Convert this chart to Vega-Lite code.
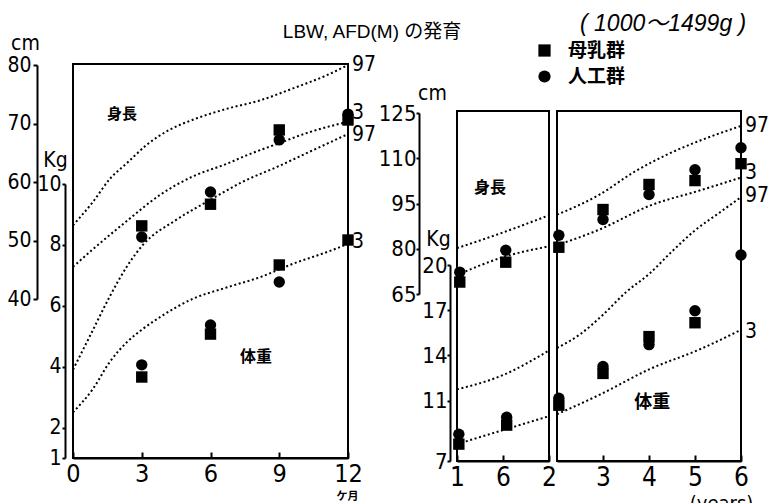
{
  "$schema": "https://vega.github.io/schema/vega-lite/v6.json",
  "background": "white",
  "padding": {"left": 5, "top": 12, "right": 0, "bottom": 0},
  "config": {
    "view": {"stroke": "black", "strokeWidth": 2},
    "axis": {"grid": false, "domainColor": "black", "domainWidth": 2, "tickColor": "black", "tickWidth": 2, "labelColor": "black", "labelFont": "Liberation Sans Narrow, DejaVu Sans Condensed, Liberation Sans, sans-serif", "titleColor": "black", "titleFontWeight": "normal", "titleFont": "Liberation Sans Narrow, DejaVu Sans Condensed, Liberation Sans, sans-serif", "labelFlush": false, "labelOverlap": false, "labelBound": false},
    "text": {"color": "black"}
  },
  "datasets": {
    "Lh": [
      {"type": "curve", "p": "97", "t": 0, "v": 52.6}, {"type": "curve", "p": "97", "t": 0.87, "v": 56.6}, {"type": "curve", "p": "97", "t": 1.6, "v": 60.5}, {"type": "curve", "p": "97", "t": 2.4, "v": 63.4}, {"type": "curve", "p": "97", "t": 3.2, "v": 66.3}, {"type": "curve", "p": "97", "t": 4.2, "v": 68.9}, {"type": "curve", "p": "97", "t": 5.2, "v": 70.6}, {"type": "curve", "p": "97", "t": 6.7, "v": 72.5}, {"type": "curve", "p": "97", "t": 8.2, "v": 74.0}, {"type": "curve", "p": "97", "t": 9.6, "v": 76.0}, {"type": "curve", "p": "97", "t": 11.1, "v": 78.3}, {"type": "curve", "p": "97", "t": 12, "v": 80.0},
      {"type": "curve", "p": "3", "t": 0, "v": 45.5}, {"type": "curve", "p": "3", "t": 0.87, "v": 48.5}, {"type": "curve", "p": "3", "t": 2.4, "v": 53.5}, {"type": "curve", "p": "3", "t": 3.8, "v": 57.8}, {"type": "curve", "p": "3", "t": 5.2, "v": 60.9}, {"type": "curve", "p": "3", "t": 6.7, "v": 63.1}, {"type": "curve", "p": "3", "t": 7.6, "v": 64.6}, {"type": "curve", "p": "3", "t": 8.9, "v": 66.5}, {"type": "curve", "p": "3", "t": 10.3, "v": 68.5}, {"type": "curve", "p": "3", "t": 12, "v": 70.3},
      {"type": "pt", "g": "母乳群", "t": 3, "v": 52.5}, {"type": "pt", "g": "人工群", "t": 3, "v": 50.6}, {"type": "pt", "g": "人工群", "t": 6, "v": 58.3}, {"type": "pt", "g": "母乳群", "t": 6, "v": 56.2}, {"type": "pt", "g": "母乳群", "t": 9, "v": 68.9}, {"type": "pt", "g": "人工群", "t": 9, "v": 67.2}, {"type": "pt", "g": "人工群", "t": 12, "v": 71.6}, {"type": "pt", "g": "母乳群", "t": 12, "v": 70.6},
      {"type": "lab", "t": 12, "v": 80.0, "text": "97"}, {"type": "lab", "t": 12, "v": 71.8, "text": "3"},
      {"type": "note", "t": 2.14, "v": 71.6, "text": "身長"}
    ],
    "Lw": [
      {"type": "curve", "p": "97", "t": 0, "v": 3.9}, {"type": "curve", "p": "97", "t": 0.8, "v": 5.1}, {"type": "curve", "p": "97", "t": 1.6, "v": 6.3}, {"type": "curve", "p": "97", "t": 2.36, "v": 7.3}, {"type": "curve", "p": "97", "t": 3.05, "v": 8.0}, {"type": "curve", "p": "97", "t": 4.5, "v": 8.82}, {"type": "curve", "p": "97", "t": 6.06, "v": 9.51}, {"type": "curve", "p": "97", "t": 7.4, "v": 10.07}, {"type": "curve", "p": "97", "t": 8.9, "v": 10.56}, {"type": "curve", "p": "97", "t": 10.3, "v": 11.05}, {"type": "curve", "p": "97", "t": 12, "v": 11.64},
      {"type": "curve", "p": "3", "t": 0, "v": 2.5}, {"type": "curve", "p": "3", "t": 0.87, "v": 3.27}, {"type": "curve", "p": "3", "t": 1.6, "v": 4.15}, {"type": "curve", "p": "3", "t": 2.36, "v": 4.81}, {"type": "curve", "p": "3", "t": 3.05, "v": 5.24}, {"type": "curve", "p": "3", "t": 3.8, "v": 5.63}, {"type": "curve", "p": "3", "t": 5.2, "v": 6.22}, {"type": "curve", "p": "3", "t": 6.7, "v": 6.6}, {"type": "curve", "p": "3", "t": 8.2, "v": 6.95}, {"type": "curve", "p": "3", "t": 9.6, "v": 7.38}, {"type": "curve", "p": "3", "t": 11.1, "v": 7.77}, {"type": "curve", "p": "3", "t": 12, "v": 8.03},
      {"type": "pt", "g": "人工群", "t": 3, "v": 4.06}, {"type": "pt", "g": "母乳群", "t": 3, "v": 3.66}, {"type": "pt", "g": "人工群", "t": 6, "v": 5.37}, {"type": "pt", "g": "母乳群", "t": 6, "v": 5.07}, {"type": "pt", "g": "母乳群", "t": 9, "v": 7.34}, {"type": "pt", "g": "人工群", "t": 9, "v": 6.78}, {"type": "pt", "g": "母乳群", "t": 12, "v": 8.16},
      {"type": "lab", "t": 12, "v": 11.6, "text": "97"}, {"type": "lab", "t": 12, "v": 8.1, "text": "3"},
      {"type": "note", "t": 7.98, "v": 4.32, "text": "体重"}
    ],
    "Ah": [
      {"type": "curve", "p": "97", "t": 1.0, "v": 80.2}, {"type": "curve", "p": "97", "t": 1.5, "v": 85.4}, {"type": "curve", "p": "97", "t": 2.0, "v": 91.1},
      {"type": "curve", "p": "3", "t": 1.0, "v": 71.3}, {"type": "curve", "p": "3", "t": 1.5, "v": 77.2}, {"type": "curve", "p": "3", "t": 2.0, "v": 80.8},
      {"type": "pt", "g": "人工群", "t": 1.03, "v": 72.25}, {"type": "pt", "g": "母乳群", "t": 1.03, "v": 68.96}, {"type": "pt", "g": "人工群", "t": 1.53, "v": 79.5}, {"type": "pt", "g": "母乳群", "t": 1.53, "v": 75.55},
      {"type": "note", "t": 1.36, "v": 100.3, "text": "身長"}
    ],
    "Aw": [
      {"type": "curve", "p": "97", "t": 1.0, "v": 11.75}, {"type": "curve", "p": "97", "t": 1.5, "v": 12.7}, {"type": "curve", "p": "97", "t": 2.0, "v": 14.33},
      {"type": "curve", "p": "3", "t": 1.0, "v": 8.12}, {"type": "curve", "p": "3", "t": 1.5, "v": 9.05}, {"type": "curve", "p": "3", "t": 2.0, "v": 9.97},
      {"type": "pt", "g": "人工群", "t": 1.02, "v": 8.78}, {"type": "pt", "g": "母乳群", "t": 1.02, "v": 8.12}, {"type": "pt", "g": "人工群", "t": 1.54, "v": 9.9}, {"type": "pt", "g": "母乳群", "t": 1.54, "v": 9.38}
    ],
    "Bh": [
      {"type": "curve", "p": "97", "t": 2.0, "v": 91.3}, {"type": "curve", "p": "97", "t": 2.93, "v": 98.0}, {"type": "curve", "p": "97", "t": 3.65, "v": 105.2}, {"type": "curve", "p": "97", "t": 4.39, "v": 111.2}, {"type": "curve", "p": "97", "t": 5.1, "v": 115.8}, {"type": "curve", "p": "97", "t": 6.0, "v": 120.7},
      {"type": "curve", "p": "3", "t": 2.0, "v": 81.2}, {"type": "curve", "p": "3", "t": 2.93, "v": 86.4}, {"type": "curve", "p": "3", "t": 4.02, "v": 94.3}, {"type": "curve", "p": "3", "t": 5.1, "v": 99.3}, {"type": "curve", "p": "3", "t": 6.0, "v": 103.6},
      {"type": "pt", "g": "人工群", "t": 2.04, "v": 84.45}, {"type": "pt", "g": "母乳群", "t": 2.04, "v": 80.5}, {"type": "pt", "g": "母乳群", "t": 3, "v": 93.0}, {"type": "pt", "g": "人工群", "t": 3, "v": 89.7}, {"type": "pt", "g": "母乳群", "t": 4, "v": 101.3}, {"type": "pt", "g": "人工群", "t": 4, "v": 98.0}, {"type": "pt", "g": "人工群", "t": 5, "v": 106.2}, {"type": "pt", "g": "母乳群", "t": 5, "v": 102.6}, {"type": "pt", "g": "人工群", "t": 6, "v": 113.5}, {"type": "pt", "g": "母乳群", "t": 6, "v": 108.2},
      {"type": "lab", "t": 6, "v": 120.7, "text": "97"}, {"type": "lab", "t": 6, "v": 105.2, "text": "3"},
      {"type": "title", "t": -3.96, "v": 151.85, "text": "LBW, AFD(M) の発育"},
      {"type": "sub", "t": 2.5, "v": 154.5, "text": "( 1000～1499g )"}
    ],
    "Bw": [
      {"type": "curve", "p": "97", "t": 2.0, "v": 14.5}, {"type": "curve", "p": "97", "t": 2.5, "v": 15.4}, {"type": "curve", "p": "97", "t": 3.0, "v": 16.7}, {"type": "curve", "p": "97", "t": 3.5, "v": 18.2}, {"type": "curve", "p": "97", "t": 4.0, "v": 19.4}, {"type": "curve", "p": "97", "t": 4.5, "v": 20.9}, {"type": "curve", "p": "97", "t": 5.0, "v": 22.3}, {"type": "curve", "p": "97", "t": 5.5, "v": 23.4}, {"type": "curve", "p": "97", "t": 6.0, "v": 24.5},
      {"type": "curve", "p": "3", "t": 2.0, "v": 10.1}, {"type": "curve", "p": "3", "t": 2.93, "v": 11.4}, {"type": "curve", "p": "3", "t": 4.02, "v": 13.1}, {"type": "curve", "p": "3", "t": 5.1, "v": 14.4}, {"type": "curve", "p": "3", "t": 6.0, "v": 15.7},
      {"type": "pt", "g": "人工群", "t": 2.04, "v": 11.16}, {"type": "pt", "g": "母乳群", "t": 2.04, "v": 10.7}, {"type": "pt", "g": "人工群", "t": 3, "v": 13.27}, {"type": "pt", "g": "母乳群", "t": 3, "v": 12.81}, {"type": "pt", "g": "母乳群", "t": 4, "v": 15.25}, {"type": "pt", "g": "人工群", "t": 4, "v": 14.72}, {"type": "pt", "g": "人工群", "t": 5, "v": 16.97}, {"type": "pt", "g": "母乳群", "t": 5, "v": 16.17}, {"type": "pt", "g": "人工群", "t": 6, "v": 20.66},
      {"type": "lab", "t": 6, "v": 24.6, "text": "97"}, {"type": "lab", "t": 6, "v": 15.56, "text": "3"},
      {"type": "note", "t": 4.07, "v": 10.85, "text": "体重"}
    ]
  },
  "resolve": {"scale": {"shape": "shared"}, "legend": {"shape": "shared"}},
  "bounds": "flush",
  "spacing": 109,
  "hconcat": [
    {
      "width": 275,
      "height": 394,
      "resolve": {"scale": {"y": "independent"}},
      "layer": [
        {
          "data": {"name": "Lh"},
          "encoding": {
            "x": {"field": "t", "type": "quantitative", "scale": {"domain": [0, 12], "nice": false, "zero": false}, "axis": {"values": [0, 3, 6, 9, 12], "labelFontSize": 25, "tickSize": -6, "labelPadding": 9, "title": "ケ月", "titleX": 274, "titleY": 38, "titleFont": "Noto Sans CJK JP", "titleFontSize": 11, "titleFontWeight": "bold", "titleAlign": "center", "titleBaseline": "middle"}},
            "y": {"field": "v", "type": "quantitative", "scale": {"domain": [40, 80], "range": [235, 1], "nice": false, "zero": false}, "axis": {"orient": "left", "offset": 36, "values": [40, 50, 60, 70, 80], "labelFontSize": 21, "tickSize": 4, "labelPadding": 2, "title": "cm", "titleAngle": 0, "titleX": -12, "titleY": -21, "titleAlign": "center", "titleBaseline": "middle", "titleFontSize": 21}}
          },
          "layer": [
            {"transform": [{"filter": "datum.type == 'curve'"}], "mark": {"type": "line", "strokeDash": [2, 2.6], "strokeWidth": 2, "color": "black", "interpolate": "monotone"}, "encoding": {"detail": {"field": "p"}}},
            {"transform": [{"filter": "datum.type == 'pt'"}], "mark": {"type": "point", "filled": true, "color": "black", "opacity": 1, "size": 130}, "encoding": {"shape": {"field": "g", "type": "nominal", "scale": {"domain": ["母乳群", "人工群"], "range": ["square", "circle"]}, "legend": {"orient": "none", "legendX": 462, "legendY": -23, "title": null, "padding": 0, "labelFont": "Noto Sans CJK JP", "labelFontSize": 19, "labelFontWeight": "bold", "labelColor": "black", "labelOffset": 14, "symbolSize": 150, "symbolFillColor": "black", "symbolStrokeColor": "black", "symbolStrokeWidth": 0, "rowPadding": 6, "symbolOpacity": 1}}}},
            {"transform": [{"filter": "datum.type == 'lab'"}], "mark": {"type": "text", "align": "left", "baseline": "middle", "dx": 4, "fontSize": 21, "font": "Liberation Sans Narrow, DejaVu Sans Condensed, Liberation Sans, sans-serif"}, "encoding": {"text": {"field": "text"}}},
            {"transform": [{"filter": "datum.type == 'note'"}], "mark": {"type": "text", "baseline": "middle", "fontSize": 15, "fontWeight": "bold", "font": "Noto Sans CJK JP"}, "encoding": {"text": {"field": "text"}}}
          ]
        },
        {
          "data": {"name": "Lw"},
          "encoding": {
            "x": {"field": "t", "type": "quantitative", "scale": {"domain": [0, 12], "nice": false, "zero": false}, "axis": {"values": [0, 3, 6, 9, 12], "labelFontSize": 25, "tickSize": -6, "labelPadding": 9, "title": "ケ月", "titleX": 274, "titleY": 38, "titleFont": "Noto Sans CJK JP", "titleFontSize": 11, "titleFontWeight": "bold", "titleAlign": "center", "titleBaseline": "middle"}},
            "y": {"field": "v", "type": "quantitative", "scale": {"domain": [1, 10], "range": [394, 120], "nice": false, "zero": false}, "axis": {"orient": "left", "offset": 8, "values": [1, 2, 4, 6, 8, 10], "labelFontSize": 21, "tickSize": 3, "labelPadding": 1, "title": "Kg", "titleAngle": 0, "titleX": -10, "titleY": 96, "titleAlign": "center", "titleBaseline": "middle", "titleFontSize": 21}}
          },
          "layer": [
            {"transform": [{"filter": "datum.type == 'curve'"}], "mark": {"type": "line", "strokeDash": [2, 2.6], "strokeWidth": 2, "color": "black", "interpolate": "monotone"}, "encoding": {"detail": {"field": "p"}}},
            {"transform": [{"filter": "datum.type == 'pt'"}], "mark": {"type": "point", "filled": true, "color": "black", "opacity": 1, "size": 130}, "encoding": {"shape": {"field": "g", "type": "nominal", "scale": {"domain": ["母乳群", "人工群"], "range": ["square", "circle"]}, "legend": {"orient": "none", "legendX": 462, "legendY": -23, "title": null, "padding": 0, "labelFont": "Noto Sans CJK JP", "labelFontSize": 19, "labelFontWeight": "bold", "labelColor": "black", "labelOffset": 14, "symbolSize": 150, "symbolFillColor": "black", "symbolStrokeColor": "black", "symbolStrokeWidth": 0, "rowPadding": 6, "symbolOpacity": 1}}}},
            {"transform": [{"filter": "datum.type == 'lab'"}], "mark": {"type": "text", "align": "left", "baseline": "middle", "dx": 4, "fontSize": 21, "font": "Liberation Sans Narrow, DejaVu Sans Condensed, Liberation Sans, sans-serif"}, "encoding": {"text": {"field": "text"}}},
            {"transform": [{"filter": "datum.type == 'note'"}], "mark": {"type": "text", "baseline": "middle", "fontSize": 16, "fontWeight": "bold", "font": "Noto Sans CJK JP"}, "encoding": {"text": {"field": "text"}}}
          ]
        }
      ]
    },
    {
      "bounds": "flush",
      "spacing": 0,
      "resolve": {"scale": {"shape": "shared"}, "legend": {"shape": "shared"}},
      "vconcat": [
        {"width": 10, "height": 47, "data": {"values": [{"a": 1}]}, "mark": {"type": "point", "opacity": 0}, "view": {"stroke": null}},
        {
          "bounds": "flush",
          "spacing": 8,
          "resolve": {"scale": {"shape": "shared"}, "legend": {"shape": "shared"}},
          "hconcat": [
            {
              "width": 92,
              "height": 350,
              "resolve": {"scale": {"y": "independent"}},
              "layer": [
                {
                  "data": {"name": "Ah"},
                  "encoding": {
                    "x": {"field": "t", "type": "quantitative", "scale": {"domain": [1, 2], "nice": false, "zero": false}, "axis": {"values": [1, 1.5, 2], "labelExpr": "datum.value == 1.5 ? '6' : format(datum.value, 'd')", "labelFontSize": 26, "tickSize": -6, "labelPadding": 9, "title": null}},
                    "y": {"field": "v", "type": "quantitative", "scale": {"domain": [65, 125], "range": [183, 2], "nice": false, "zero": false}, "axis": {"orient": "left", "offset": 38, "values": [65, 80, 95, 110, 125], "labelFontSize": 22, "tickSize": 3, "labelPadding": 0, "title": "cm", "titleAngle": 0, "titleX": 13, "titleY": -18, "titleAlign": "center", "titleBaseline": "middle", "titleFontSize": 21}}
                  },
                  "layer": [
                    {"transform": [{"filter": "datum.type == 'curve'"}], "mark": {"type": "line", "strokeDash": [2, 2.6], "strokeWidth": 2, "color": "black", "interpolate": "monotone"}, "encoding": {"detail": {"field": "p"}}},
                    {"transform": [{"filter": "datum.type == 'pt'"}], "mark": {"type": "point", "filled": true, "color": "black", "opacity": 1, "size": 130}, "encoding": {"shape": {"field": "g", "type": "nominal", "scale": {"domain": ["母乳群", "人工群"], "range": ["square", "circle"]}, "legend": {"orient": "none", "legendX": 462, "legendY": -23, "title": null, "padding": 0, "labelFont": "Noto Sans CJK JP", "labelFontSize": 19, "labelFontWeight": "bold", "labelColor": "black", "labelOffset": 14, "symbolSize": 150, "symbolFillColor": "black", "symbolStrokeColor": "black", "symbolStrokeWidth": 0, "rowPadding": 6, "symbolOpacity": 1}}}},
                    {"transform": [{"filter": "datum.type == 'note'"}], "mark": {"type": "text", "baseline": "middle", "fontSize": 16, "fontWeight": "bold", "font": "Noto Sans CJK JP"}, "encoding": {"text": {"field": "text"}}}
                  ]
                },
                {
                  "data": {"name": "Aw"},
                  "encoding": {
                    "x": {"field": "t", "type": "quantitative", "scale": {"domain": [1, 2], "nice": false, "zero": false}, "axis": {"values": [1, 1.5, 2], "labelExpr": "datum.value == 1.5 ? '6' : format(datum.value, 'd')", "labelFontSize": 26, "tickSize": -6, "labelPadding": 9, "title": null}},
                    "y": {"field": "v", "type": "quantitative", "scale": {"domain": [7, 20], "range": [350, 154], "nice": false, "zero": false}, "axis": {"orient": "left", "offset": 7, "values": [7, 11, 14, 17, 20], "labelFontSize": 22, "tickSize": 3, "labelPadding": 0, "title": "Kg", "titleAngle": 0, "titleX": -12, "titleY": 128, "titleAlign": "center", "titleBaseline": "middle", "titleFontSize": 21}}
                  },
                  "layer": [
                    {"transform": [{"filter": "datum.type == 'curve'"}], "mark": {"type": "line", "strokeDash": [2, 2.6], "strokeWidth": 2, "color": "black", "interpolate": "monotone"}, "encoding": {"detail": {"field": "p"}}},
                    {"transform": [{"filter": "datum.type == 'pt'"}], "mark": {"type": "point", "filled": true, "color": "black", "opacity": 1, "size": 130}, "encoding": {"shape": {"field": "g", "type": "nominal", "scale": {"domain": ["母乳群", "人工群"], "range": ["square", "circle"]}, "legend": {"orient": "none", "legendX": 462, "legendY": -23, "title": null, "padding": 0, "labelFont": "Noto Sans CJK JP", "labelFontSize": 19, "labelFontWeight": "bold", "labelColor": "black", "labelOffset": 14, "symbolSize": 150, "symbolFillColor": "black", "symbolStrokeColor": "black", "symbolStrokeWidth": 0, "rowPadding": 6, "symbolOpacity": 1}}}}
                  ]
                }
              ]
            },
            {
              "width": 184,
              "height": 350,
              "resolve": {"scale": {"y": "independent"}},
              "layer": [
                {
                  "data": {"name": "Bh"},
                  "encoding": {
                    "x": {"field": "t", "type": "quantitative", "scale": {"domain": [2, 6], "nice": false, "zero": false}, "axis": {"values": [3, 4, 5, 6], "format": "d", "labelFontSize": 26, "tickSize": -6, "labelPadding": 9, "title": "(years)", "titleX": 164, "titleY": 42, "titleFontSize": 20, "titleAlign": "center", "titleBaseline": "middle"}},
                    "y": {"field": "v", "type": "quantitative", "scale": {"domain": [65, 125], "range": [183, 2], "nice": false, "zero": false}, "axis": null}
                  },
                  "layer": [
                    {"transform": [{"filter": "datum.type == 'curve'"}], "mark": {"type": "line", "strokeDash": [2, 2.6], "strokeWidth": 2, "color": "black", "interpolate": "monotone"}, "encoding": {"detail": {"field": "p"}}},
                    {"transform": [{"filter": "datum.type == 'pt'"}], "mark": {"type": "point", "filled": true, "color": "black", "opacity": 1, "size": 130}, "encoding": {"shape": {"field": "g", "type": "nominal", "scale": {"domain": ["母乳群", "人工群"], "range": ["square", "circle"]}, "legend": {"orient": "none", "legendX": 462, "legendY": -23, "title": null, "padding": 0, "labelFont": "Noto Sans CJK JP", "labelFontSize": 19, "labelFontWeight": "bold", "labelColor": "black", "labelOffset": 14, "symbolSize": 150, "symbolFillColor": "black", "symbolStrokeColor": "black", "symbolStrokeWidth": 0, "rowPadding": 6, "symbolOpacity": 1}}}},
                    {"transform": [{"filter": "datum.type == 'lab'"}], "mark": {"type": "text", "align": "left", "baseline": "middle", "dx": 4, "fontSize": 21, "font": "Liberation Sans Narrow, DejaVu Sans Condensed, Liberation Sans, sans-serif"}, "encoding": {"text": {"field": "text"}}},
                    {"transform": [{"filter": "datum.type == 'title'"}], "mark": {"type": "text", "align": "left", "baseline": "middle", "fontSize": 19, "font": "Liberation Sans, Noto Sans CJK JP, sans-serif"}, "encoding": {"text": {"field": "text"}}},
                    {"transform": [{"filter": "datum.type == 'sub'"}], "mark": {"type": "text", "align": "left", "baseline": "middle", "fontSize": 23, "fontStyle": "italic", "font": "Liberation Sans, Noto Sans CJK JP, sans-serif"}, "encoding": {"text": {"field": "text"}}}
                  ]
                },
                {
                  "data": {"name": "Bw"},
                  "encoding": {
                    "x": {"field": "t", "type": "quantitative", "scale": {"domain": [2, 6], "nice": false, "zero": false}, "axis": {"values": [3, 4, 5, 6], "format": "d", "labelFontSize": 26, "tickSize": -6, "labelPadding": 9, "title": "(years)", "titleX": 164, "titleY": 42, "titleFontSize": 20, "titleAlign": "center", "titleBaseline": "middle"}},
                    "y": {"field": "v", "type": "quantitative", "scale": {"domain": [7, 20], "range": [350, 154], "nice": false, "zero": false}, "axis": null}
                  },
                  "layer": [
                    {"transform": [{"filter": "datum.type == 'curve'"}], "mark": {"type": "line", "strokeDash": [2, 2.6], "strokeWidth": 2, "color": "black", "interpolate": "monotone"}, "encoding": {"detail": {"field": "p"}}},
                    {"transform": [{"filter": "datum.type == 'pt'"}], "mark": {"type": "point", "filled": true, "color": "black", "opacity": 1, "size": 130}, "encoding": {"shape": {"field": "g", "type": "nominal", "scale": {"domain": ["母乳群", "人工群"], "range": ["square", "circle"]}, "legend": {"orient": "none", "legendX": 462, "legendY": -23, "title": null, "padding": 0, "labelFont": "Noto Sans CJK JP", "labelFontSize": 19, "labelFontWeight": "bold", "labelColor": "black", "labelOffset": 14, "symbolSize": 150, "symbolFillColor": "black", "symbolStrokeColor": "black", "symbolStrokeWidth": 0, "rowPadding": 6, "symbolOpacity": 1}}}},
                    {"transform": [{"filter": "datum.type == 'lab'"}], "mark": {"type": "text", "align": "left", "baseline": "middle", "dx": 4, "fontSize": 21, "font": "Liberation Sans Narrow, DejaVu Sans Condensed, Liberation Sans, sans-serif"}, "encoding": {"text": {"field": "text"}}},
                    {"transform": [{"filter": "datum.type == 'note'"}], "mark": {"type": "text", "baseline": "middle", "fontSize": 18, "fontWeight": "bold", "font": "Noto Sans CJK JP"}, "encoding": {"text": {"field": "text"}}}
                  ]
                }
              ]
            }
          ]
        }
      ]
    }
  ]
}
